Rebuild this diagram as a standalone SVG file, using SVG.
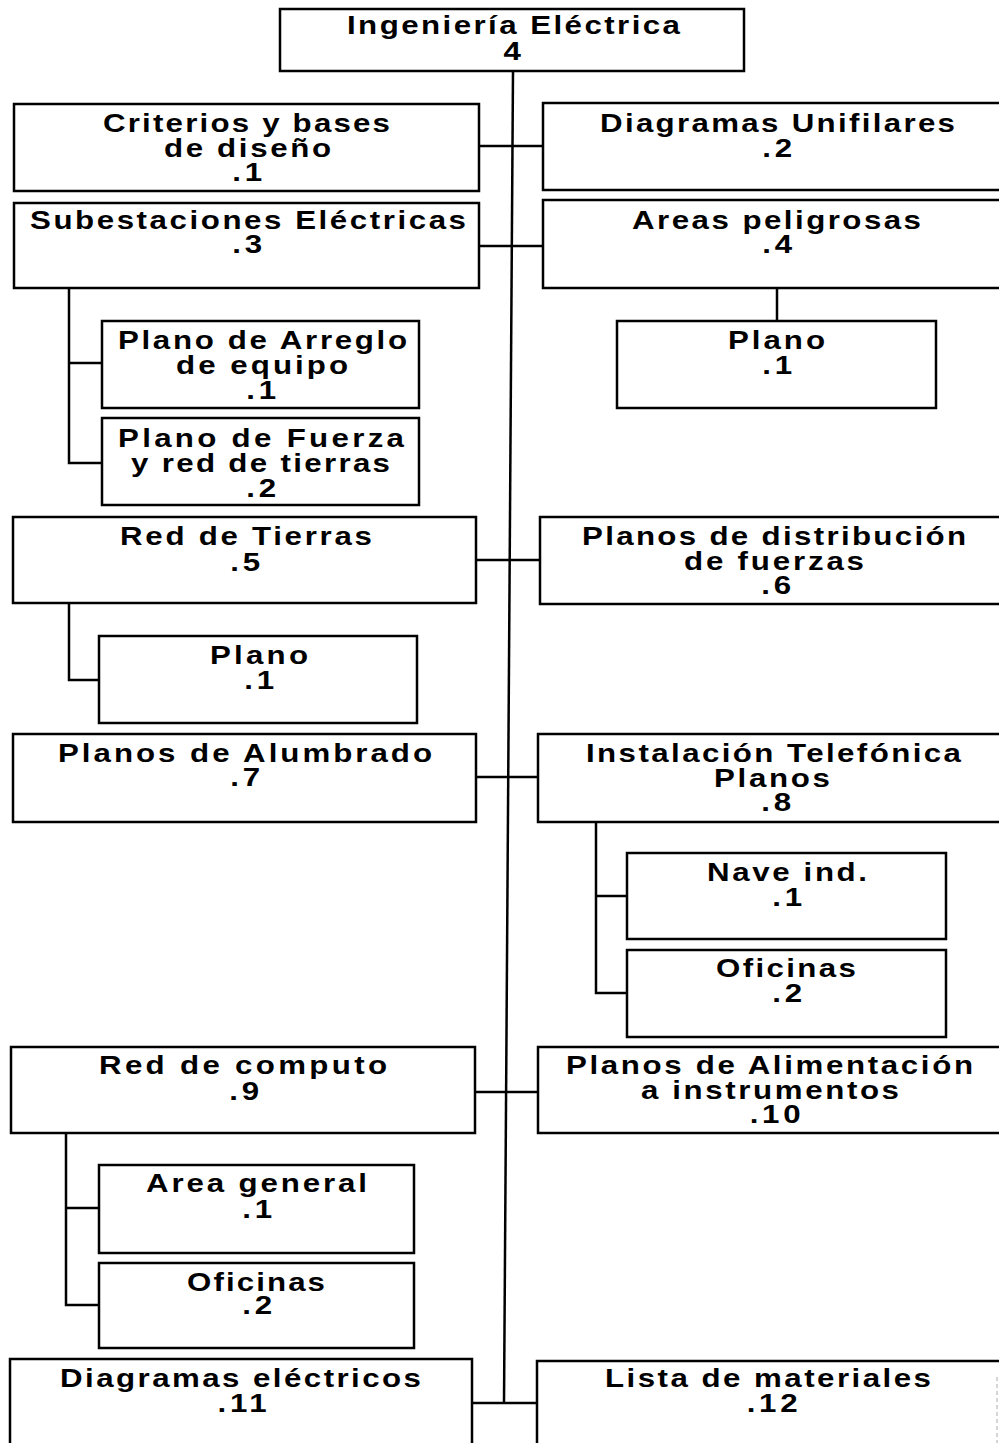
<svg xmlns="http://www.w3.org/2000/svg" width="999" height="1443" viewBox="0 0 999 1443">
  <style>
    .box { fill: #fff; stroke: #000; stroke-width: 2.5; }
    .ln { fill: none; stroke: #000; stroke-width: 2.5; }
    .t { font-family: "Liberation Sans", Arial, sans-serif; font-weight: bold; font-size: 25px; fill: #000; }
    .n { text-anchor: middle; letter-spacing: 3px; }
  </style>
  <rect width="999" height="1443" fill="#fff"/>

  <!-- connectors: main trunk, sibling bars and branch brackets -->
  <g id="connectors">
    <line class="ln" x1="513" y1="71" x2="504" y2="1403"/>
    <line class="ln" x1="479" y1="146" x2="543" y2="146"/>
    <line class="ln" x1="479" y1="246" x2="543" y2="246"/>
    <line class="ln" x1="476" y1="560" x2="540" y2="560"/>
    <line class="ln" x1="476" y1="777" x2="538" y2="777"/>
    <line class="ln" x1="475" y1="1092" x2="538" y2="1092"/>
    <line class="ln" x1="472" y1="1403" x2="537" y2="1403"/>
    <!-- Subestaciones -> children -->
    <polyline class="ln" points="69,288 69,463 102,463"/>
    <line class="ln" x1="69" y1="363" x2="102" y2="363"/>
    <!-- Areas peligrosas -> plano -->
    <line class="ln" x1="777" y1="288" x2="777" y2="321"/>
    <!-- Red de Tierras -> plano -->
    <polyline class="ln" points="69,603 69,680 99,680"/>
    <!-- Instalación Telefónica -> children -->
    <polyline class="ln" points="596,822 596,993 627,993"/>
    <line class="ln" x1="596" y1="896" x2="627" y2="896"/>
    <!-- Red de computo -> children -->
    <polyline class="ln" points="66,1133 66,1305 99,1305"/>
    <line class="ln" x1="66" y1="1208" x2="99" y2="1208"/>
  </g>

  <g id="n-root">
    <rect class="box" x="280" y="9" width="464" height="62"/>
    <text class="t" transform="translate(347 34) scale(1.25 1)" textLength="266.4" lengthAdjust="spacing">Ingeniería Eléctrica</text>
    <text class="t n" transform="translate(514 60) scale(1.25 1)">4</text>
  </g>

  <g id="n-1">
    <rect class="box" x="14" y="104" width="465" height="87"/>
    <text class="t" transform="translate(103 132) scale(1.25 1)" textLength="229.6" lengthAdjust="spacing">Criterios y bases</text>
    <text class="t" transform="translate(164 157) scale(1.25 1)" textLength="133.6" lengthAdjust="spacing">de diseño</text>
    <text class="t n" transform="translate(249 181) scale(1.25 1)">.1</text>
  </g>

  <g id="n-2">
    <rect class="box" x="543" y="103" width="470" height="87"/>
    <text class="t" transform="translate(600 132) scale(1.25 1)" textLength="284" lengthAdjust="spacing">Diagramas Unifilares</text>
    <text class="t n" transform="translate(779 157) scale(1.25 1)">.2</text>
  </g>

  <g id="n-3">
    <rect class="box" x="14" y="203" width="465" height="85"/>
    <text class="t" transform="translate(30 229) scale(1.25 1)" textLength="348.8" lengthAdjust="spacing">Subestaciones Eléctricas</text>
    <text class="t n" transform="translate(249 253) scale(1.25 1)">.3</text>
  </g>

  <g id="n-3-1">
    <rect class="box" x="102" y="321" width="317" height="87"/>
    <text class="t" transform="translate(118 349) scale(1.25 1)" textLength="231.2" lengthAdjust="spacing">Plano de Arreglo</text>
    <text class="t" transform="translate(176 374) scale(1.25 1)" textLength="137.6" lengthAdjust="spacing">de equipo</text>
    <text class="t n" transform="translate(263 399) scale(1.25 1)">.1</text>
  </g>

  <g id="n-3-2">
    <rect class="box" x="102" y="418" width="317" height="87"/>
    <text class="t" transform="translate(118 447) scale(1.25 1)" textLength="228.8" lengthAdjust="spacing">Plano de Fuerza</text>
    <text class="t" transform="translate(131 472) scale(1.25 1)" textLength="207.2" lengthAdjust="spacing">y red de tierras</text>
    <text class="t n" transform="translate(263 497) scale(1.25 1)">.2</text>
  </g>

  <g id="n-4">
    <rect class="box" x="543" y="200" width="470" height="88"/>
    <text class="t" transform="translate(632 229) scale(1.25 1)" textLength="231.2" lengthAdjust="spacing">Areas peligrosas</text>
    <text class="t n" transform="translate(779 253) scale(1.25 1)">.4</text>
  </g>

  <g id="n-4-1">
    <rect class="box" x="617" y="321" width="319" height="87"/>
    <text class="t" transform="translate(728 349) scale(1.25 1)" textLength="77.6" lengthAdjust="spacing">Plano</text>
    <text class="t n" transform="translate(779 374) scale(1.25 1)">.1</text>
  </g>

  <g id="n-5">
    <rect class="box" x="13" y="517" width="463" height="86"/>
    <text class="t" transform="translate(120 545) scale(1.25 1)" textLength="201.6" lengthAdjust="spacing">Red de Tierras</text>
    <text class="t n" transform="translate(247 571) scale(1.25 1)">.5</text>
  </g>

  <g id="n-5-1">
    <rect class="box" x="99" y="636" width="318" height="87"/>
    <text class="t" transform="translate(210 664) scale(1.25 1)" textLength="78.4" lengthAdjust="spacing">Plano</text>
    <text class="t n" transform="translate(261 689) scale(1.25 1)">.1</text>
  </g>

  <g id="n-6">
    <rect class="box" x="540" y="517" width="473" height="87"/>
    <text class="t" transform="translate(582 545) scale(1.25 1)" textLength="307.2" lengthAdjust="spacing">Planos de distribución</text>
    <text class="t" transform="translate(684 570) scale(1.25 1)" textLength="144" lengthAdjust="spacing">de fuerzas</text>
    <text class="t n" transform="translate(778 594) scale(1.25 1)">.6</text>
  </g>

  <g id="n-7">
    <rect class="box" x="13" y="734" width="463" height="88"/>
    <text class="t" transform="translate(58 762) scale(1.25 1)" textLength="299.2" lengthAdjust="spacing">Planos de Alumbrado</text>
    <text class="t n" transform="translate(247 786) scale(1.25 1)">.7</text>
  </g>

  <g id="n-8">
    <rect class="box" x="538" y="734" width="475" height="88"/>
    <text class="t" transform="translate(586 762) scale(1.25 1)" textLength="300" lengthAdjust="spacing">Instalación Telefónica</text>
    <text class="t" transform="translate(714 787) scale(1.25 1)" textLength="92.8" lengthAdjust="spacing">Planos</text>
    <text class="t n" transform="translate(778 811) scale(1.25 1)">.8</text>
  </g>

  <g id="n-8-1">
    <rect class="box" x="627" y="853" width="319" height="86"/>
    <text class="t" transform="translate(707 881) scale(1.25 1)" textLength="128" lengthAdjust="spacing">Nave ind.</text>
    <text class="t n" transform="translate(789 906) scale(1.25 1)">.1</text>
  </g>

  <g id="n-8-2">
    <rect class="box" x="627" y="950" width="319" height="87"/>
    <text class="t" transform="translate(716 977) scale(1.25 1)" textLength="112" lengthAdjust="spacing">Oficinas</text>
    <text class="t n" transform="translate(789 1002) scale(1.25 1)">.2</text>
  </g>

  <g id="n-9">
    <rect class="box" x="11" y="1047" width="464" height="86"/>
    <text class="t" transform="translate(99 1074) scale(1.25 1)" textLength="230.4" lengthAdjust="spacing">Red de computo</text>
    <text class="t n" transform="translate(246 1100) scale(1.25 1)">.9</text>
  </g>

  <g id="n-9-1">
    <rect class="box" x="99" y="1165" width="315" height="88"/>
    <text class="t" transform="translate(146 1192) scale(1.25 1)" textLength="176.8" lengthAdjust="spacing">Area general</text>
    <text class="t n" transform="translate(259 1218) scale(1.25 1)">.1</text>
  </g>

  <g id="n-9-2">
    <rect class="box" x="99" y="1263" width="315" height="85"/>
    <text class="t" transform="translate(187 1291) scale(1.25 1)" textLength="110.4" lengthAdjust="spacing">Oficinas</text>
    <text class="t n" transform="translate(259 1314) scale(1.25 1)">.2</text>
  </g>

  <g id="n-10">
    <rect class="box" x="538" y="1047" width="475" height="86"/>
    <text class="t" transform="translate(566 1074) scale(1.25 1)" textLength="325.6" lengthAdjust="spacing">Planos de Alimentación</text>
    <text class="t" transform="translate(641 1099) scale(1.25 1)" textLength="206.4" lengthAdjust="spacing">a instrumentos</text>
    <text class="t n" transform="translate(777 1123) scale(1.25 1)">.10</text>
  </g>

  <g id="n-11">
    <rect class="box" x="10" y="1359" width="462" height="110"/>
    <text class="t" transform="translate(60 1387) scale(1.25 1)" textLength="288.8" lengthAdjust="spacing">Diagramas eléctricos</text>
    <text class="t n" transform="translate(244 1412) scale(1.25 1)">.11</text>
  </g>

  <g id="n-12">
    <rect class="box" x="537" y="1361" width="476" height="110"/>
    <text class="t" transform="translate(605 1387) scale(1.25 1)" textLength="260.8" lengthAdjust="spacing">Lista de materiales</text>
    <text class="t n" transform="translate(774 1412) scale(1.25 1)">.12</text>
  </g>

  <!-- faint sheet edge mark, lower right -->
  <line x1="997" y1="1377" x2="997" y2="1443" stroke="#c8c8c8" stroke-width="1.5" stroke-dasharray="4 3"/>
</svg>
